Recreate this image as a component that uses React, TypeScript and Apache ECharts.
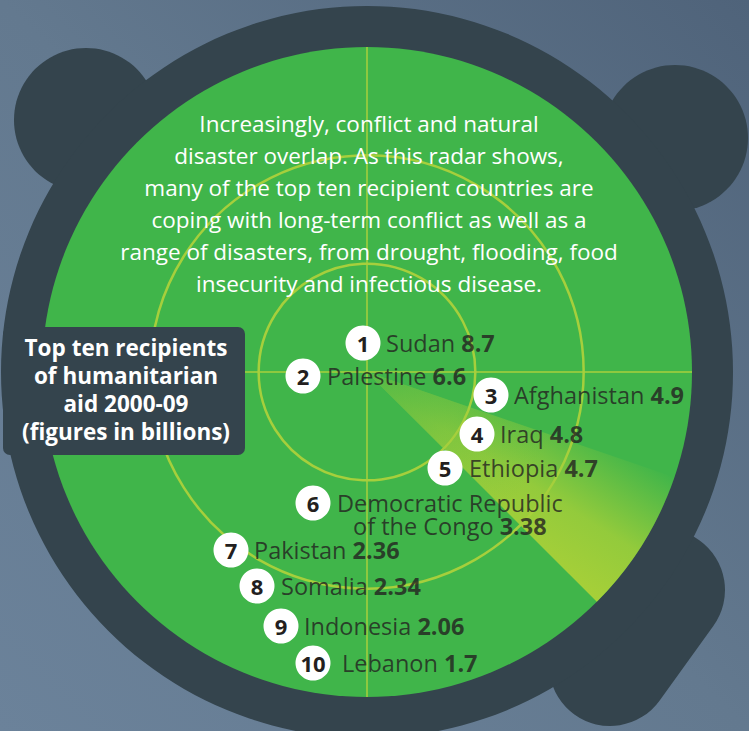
import React, { useEffect, useRef } from "react";
import * as echarts from "echarts";

// ---- data ----
const ranks = [1, 2, 3, 4, 5, 6, 7, 8, 9, 10];
const countries = [
  "Sudan",
  "Palestine",
  "Afghanistan",
  "Iraq",
  "Ethiopia",
  "Democratic Republic\nof the Congo",
  "Pakistan",
  "Somalia",
  "Indonesia",
  "Lebanon",
];
const aidBillions = [8.7, 6.6, 4.9, 4.8, 4.7, 3.38, 2.36, 2.34, 2.06, 1.7];
const aidLabels = ["8.7", "6.6", "4.9", "4.8", "4.7", "3.38", "2.36", "2.34", "2.06", "1.7"];
const introLines = [
  "Increasingly, conflict and natural",
  "disaster overlap. As this radar shows,",
  "many of the top ten recipient countries are",
  "coping with long-term conflict as well as a",
  "range of disasters, from drought, flooding, food",
  "insecurity and infectious disease.",
];
const titleLines = [
  "Top ten recipients",
  "of humanitarian",
  "aid 2000-09",
  "(figures in billions)",
];

// ---- layout (pixel positions of the list badges) ----
const badgeX = [363, 303, 491, 477, 445, 313, 231, 257, 281, 313];
const badgeY = [343, 376, 395, 434, 468, 503, 550, 586, 626, 663];
const labelGap = [23, 24, 23, 23, 24, 24, 23, 24, 23, 29];
const labelDy = [0, 0, 0, 0, 0, 11, 0, 0, 0, 0];

const W = 749;
const H = 731;
const CX = 367;
const CY = 372;
const R = 325;
const DARK = "#34444d";
const GREEN = "#40b54a";
const LINE = "#a6cf3c";
const INK = "#231f20";
const FONT = '"Open Sans", "DejaVu Sans", sans-serif';

export default function App() {
  const ref = useRef<HTMLDivElement>(null);
  useEffect(() => {
    document.body.style.margin = "0";
    const chart = echarts.init(ref.current!, null, { renderer: "svg" });
    const option: any = {
      animation: false,
      grid: { left: 0, top: 0, right: 0, bottom: 0, containLabel: false },
      xAxis: { type: "value", min: 0, max: W, show: false },
      yAxis: { type: "value", min: 0, max: H, inverse: true, show: false },
      polar: { center: [CX, CY], radius: R },
      angleAxis: {
        type: "value",
        min: 0,
        max: 360,
        interval: 90,
        startAngle: 90,
        z: 1,
        axisLine: { show: false },
        axisTick: { show: false },
        axisLabel: { show: false },
        splitLine: { show: true, lineStyle: { color: LINE, width: 1.5 } },
      },
      radiusAxis: {
        type: "value",
        min: 0,
        max: 3,
        interval: 1,
        z: 1,
        axisLine: { show: false },
        axisTick: { show: false },
        axisLabel: { show: false },
        splitLine: {
          show: true,
          lineStyle: { color: [LINE, LINE, LINE, "rgba(0,0,0,0)"], width: 2.5 },
        },
      },
      graphic: [
        {
          type: "rect",
          z: -20,
          shape: { x: 0, y: 0, width: W, height: H },
          style: {
            fill: {
              type: "linear",
              x: 1,
              y: 0,
              x2: 0,
              y2: 1,
              colorStops: [
                { offset: 0, color: "#4f637a" },
                { offset: 0.5, color: "#63798f" },
                { offset: 1, color: "#6b829a" },
              ],
            },
          },
        },
        { type: "circle", z: -15, shape: { cx: 86, cy: 120, r: 72 }, style: { fill: DARK } },
        { type: "circle", z: -15, shape: { cx: 675, cy: 138, r: 73 }, style: { fill: DARK } },
        {
          type: "line",
          z: -15,
          shape: { x1: 664, y1: 590, x2: 610, y2: 665 },
          style: { stroke: DARK, lineWidth: 122, lineCap: "round" },
        },
        { type: "circle", z: -15, shape: { cx: CX, cy: CY, r: 366 }, style: { fill: DARK } },
        { type: "circle", z: -12, shape: { cx: CX, cy: CY, r: R }, style: { fill: GREEN } },
        {
          type: "sector",
          z: -8,
          shape: { cx: CX, cy: CY, r0: 0, r: R, startAngle: 0.33, endAngle: Math.PI / 4 },
          style: {
            fill: {
              type: "linear",
              global: true,
              x: 575,
              y: 592,
              x2: 655,
              y2: 465,
              colorStops: [
                { offset: 0, color: "rgba(168,208,56,1)" },
                { offset: 0.45, color: "rgba(168,208,56,0.8)" },
                { offset: 1, color: "rgba(168,208,56,0)" },
              ],
            },
          },
        },
        {
          type: "sector",
          z: -7,
          shape: { cx: CX, cy: CY, r0: 0, r: R, startAngle: 0.33, endAngle: Math.PI / 4 },
          style: {
            fill: {
              type: "radial",
              global: true,
              x: CX,
              y: CY,
              r: R,
              colorStops: [
                { offset: 0, color: "rgba(64,181,74,0.75)" },
                { offset: 0.3, color: "rgba(64,181,74,0.25)" },
                { offset: 0.6, color: "rgba(64,181,74,0)" },
                { offset: 1, color: "rgba(64,181,74,0)" },
              ],
            },
          },
        },
        {
          type: "rect",
          z: 10,
          shape: { x: 3, y: 327, width: 242, height: 128, r: 7 },
          style: { fill: DARK },
        },
        {
          type: "text",
          z: 11,
          x: 126,
          y: 389,
          style: {
            text: titleLines.join("\n"),
            fill: "#ffffff",
            fontFamily: FONT,
            fontWeight: "bold",
            fontSize: 22.5,
            lineHeight: 28,
            align: "center",
            verticalAlign: "middle",
            textAlign: "center",
            textVerticalAlign: "middle",
          },
        },
        {
          type: "text",
          z: 11,
          x: 369,
          y: 203,
          style: {
            text: introLines.join("\n"),
            fill: "#ffffff",
            fontFamily: FONT,
            fontSize: 22.5,
            lineHeight: 32,
            align: "center",
            verticalAlign: "middle",
            textAlign: "center",
            textVerticalAlign: "middle",
          },
        },
      ],
      series: [
        {
          type: "scatter",
          coordinateSystem: "cartesian2d",
          z: 5,
          symbol: "circle",
          symbolSize: 35,
          silent: true,
          itemStyle: { color: "#ffffff", opacity: 1 },
          data: ranks.map((r, i) => [badgeX[i], badgeY[i], r]),
          label: {
            show: true,
            position: "inside",
            formatter: (p: any) => String(p.value[2]),
            color: INK,
            fontFamily: FONT,
            fontWeight: "bold",
            fontSize: 22,
          },
        },
        {
          type: "scatter",
          coordinateSystem: "cartesian2d",
          z: 5,
          symbol: "circle",
          symbolSize: 0,
          silent: true,
          data: countries.map((c, i) => ({
            value: [badgeX[i] + labelGap[i], badgeY[i], aidBillions[i]],
            name: c,
            label: { offset: [0, labelDy[i]] },
          })),
          label: {
            show: true,
            position: "right",
            distance: 0,
            formatter: (p: any) => {
              const i = p.dataIndex;
              const lines = countries[i].split("\n");
              return lines
                .map((l, k) =>
                  k === lines.length - 1 ? `{n|${l} }{v|${aidLabels[i]}}` : `{n|${l}}`
                )
                .join("\n");
            },
            rich: {
              n: { fontFamily: FONT, fontSize: 23.5, color: INK, align: "center", lineHeight: 23 },
              v: {
                fontFamily: FONT,
                fontSize: 23.5,
                fontWeight: "bold",
                color: INK,
                align: "center",
                lineHeight: 23,
              },
            },
          },
        },
      ],
    };
    chart.setOption(option);
    return () => chart.dispose();
  }, []);
  return (
    <div
      ref={ref}
      style={{ position: "absolute", left: 0, top: 0, width: W, height: H }}
    />
  );
}
